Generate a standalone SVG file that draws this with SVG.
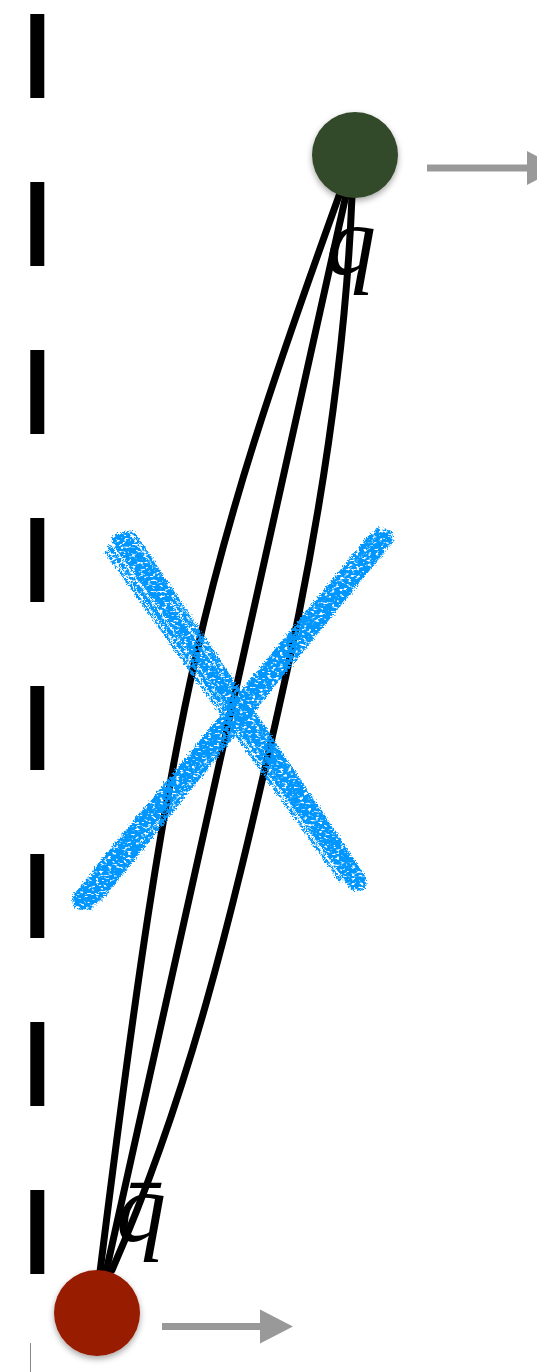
<svg xmlns="http://www.w3.org/2000/svg" width="537" height="1372" viewBox="0 0 537 1372">
  <style>
    .conn { fill: none; stroke: #000; stroke-width: 7; stroke-linecap: round; }
    .dash { stroke: #000; stroke-width: 14; stroke-dasharray: 84 84; }
    .move { stroke: #999; stroke-width: 7; fill: none; }
    .lbl { font-family: "Liberation Serif", "Times New Roman", serif; font-style: italic; font-size: 100px; fill: #000; }
    .brush { fill: none; stroke: #0096ff; stroke-linecap: round; }
  </style>
  <defs>
    <filter id="shadow" x="-30%" y="-30%" width="160%" height="170%">
      <feDropShadow dx="0" dy="3" stdDeviation="3" flood-color="#000" flood-opacity="0.35"/>
    </filter>
    <filter id="rough" x="-10%" y="-10%" width="120%" height="120%">
      <feTurbulence type="fractalNoise" baseFrequency="0.9" numOctaves="2" seed="3" result="n"/>
      <feDisplacementMap in="SourceGraphic" in2="n" scale="7" xChannelSelector="R" yChannelSelector="G" result="d"/>
      <feTurbulence type="fractalNoise" baseFrequency="0.25 0.45" numOctaves="2" seed="9" result="m"/>
      <feColorMatrix in="m" type="matrix" values="0 0 0 0 0  0 0 0 0 0  0 0 0 0 0  0 0 0 -7 5.0" result="mask"/>
      <feComposite in="d" in2="mask" operator="in"/>
    </filter>
    <marker id="head" markerUnits="userSpaceOnUse" markerWidth="34" markerHeight="34" refX="0" refY="17" orient="auto" overflow="visible">
      <path d="M0,0 L33,17 L0,34 Z" fill="#999"/>
    </marker>
  </defs>

  <rect width="537" height="1372" fill="#fff"/>

  <g id="boundary">
    <line class="dash" x1="37.3" y1="14" x2="37.3" y2="1274"/>
    <line x1="30.5" y1="1343" x2="30.5" y2="1372" stroke="#888" stroke-width="1"/>
  </g>

  <g id="connectors">
    <path class="conn" d="M340,193 C203,572 172,692 100,1272"/>
    <path class="conn" d="M346,195 L106,1272"/>
    <path class="conn" d="M352,196 C345,372 315.5,549 275,725 C233,907 192,1088 112,1270"/>
  </g>

  <g id="cross" filter="url(#rough)">
    <path class="brush" stroke-width="13" d="M118,540 L360,884"/>
    <path class="brush" stroke-width="4" d="M127,533 L364,878"/>
    <path class="brush" stroke-width="3" d="M132,531 L358,868"/>
    <path class="brush" stroke-width="5" d="M110,548 L353,888"/>
    <path class="brush" stroke-width="3" d="M107,553 L340,880"/>
    <path class="brush" stroke-width="18" d="M122,542 L165,594"/>
    <path class="brush" stroke-width="13" d="M386,536 L82,902"/>
    <path class="brush" stroke-width="4" d="M392,540 L90,908"/>
    <path class="brush" stroke-width="3" d="M385,547 L100,900"/>
    <path class="brush" stroke-width="5" d="M378,531 L78,896"/>
    <path class="brush" stroke-width="3" d="M371,535 L95,870"/>
    <path class="brush" stroke-width="20" d="M82,900 L130,846"/>
  </g>

  <g id="node-q">
    <circle cx="355" cy="155" r="43" fill="#33492a" filter="url(#shadow)"/>
    <text class="lbl" x="326" y="274">q</text>
  </g>

  <g id="node-qbar">
    <circle cx="97" cy="1313" r="43" fill="#981a00" filter="url(#shadow)"/>
    <text class="lbl" x="116" y="1241">q̄</text>
  </g>

  <g id="motion">
    <line class="move" x1="427" y1="168" x2="527" y2="168" marker-end="url(#head)"/>
    <line class="move" x1="162" y1="1326.5" x2="260" y2="1326.5" marker-end="url(#head)"/>
  </g>
</svg>
